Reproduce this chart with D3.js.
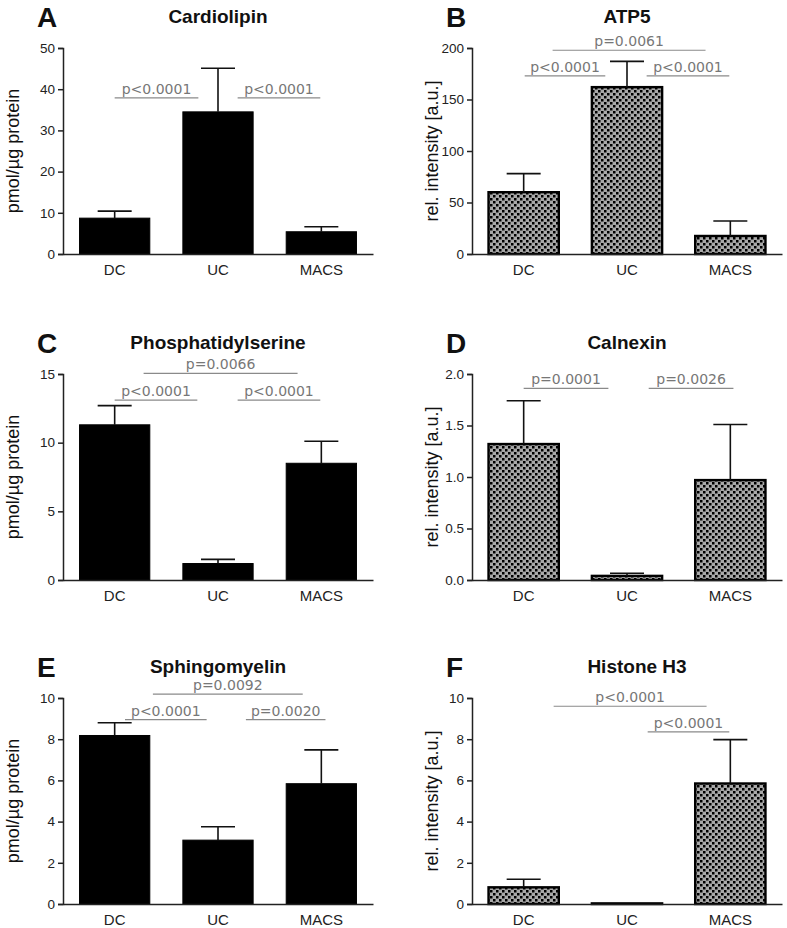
<!DOCTYPE html>
<html>
<head>
<meta charset="utf-8">
<script src="https://cdn.jsdelivr.net/npm/d3@7"></script>
<style>
  html, body { margin: 0; padding: 0; background: #fff; }
  svg { display: block; }
</style>
</head>
<body>
<svg id="chart" width="787" height="928"></svg>
<script>
// ---------- data ----------
const categories = ["DC", "UC", "MACS"];

const cardiolipinMean = [8.7, 34.5, 5.4];
const cardiolipinSD   = [1.7, 10.6, 1.2];
const cardiolipinTicks = [0, 10, 20, 30, 40, 50];

const atp5Mean = [60, 162, 17.5];
const atp5SD   = [18, 25, 14.5];
const atp5Ticks = [0, 50, 100, 150, 200];

const psMean = [11.3, 1.2, 8.5];
const psSD   = [1.4, 0.3, 1.6];
const psTicks = [0, 5, 10, 15];

const calnexinMean = [1.32, 0.04, 0.97];
const calnexinSD   = [0.42, 0.025, 0.54];
const calnexinTicks = [0, 0.5, 1.0, 1.5, 2.0];

const smMean = [8.18, 3.1, 5.84];
const smSD   = [0.62, 0.65, 1.64];
const smTicks = [0, 2, 4, 6, 8, 10];

const h3Mean = [0.81, 0.03, 5.85];
const h3SD   = [0.39, 0.0, 2.13];
const h3Ticks = [0, 2, 4, 6, 8, 10];

// significance brackets: from/to in category units (0 = DC, 1 = UC, 2 = MACS), y in data units
const cardiolipinSig = [
  { label: "p<0.0001", from: 0.0, to: 0.81, y: 37.9 },
  { label: "p<0.0001", from: 1.19, to: 1.99, y: 37.9 }
];
const atp5Sig = [
  { label: "p=0.0061", from: 0.28, to: 1.76, y: 197.8 },
  { label: "p<0.0001", from: 0.01, to: 0.79, y: 172.9 },
  { label: "p<0.0001", from: 1.19, to: 1.99, y: 172.9 }
];
const psSig = [
  { label: "p=0.0066", from: 0.28, to: 1.77, y: 15.05 },
  { label: "p<0.0001", from: 0.0, to: 0.8, y: 13.1 },
  { label: "p<0.0001", from: 1.19, to: 1.99, y: 13.1 }
];
const calnexinSig = [
  { label: "p=0.0001", from: 0.0, to: 0.82, y: 1.86 },
  { label: "p=0.0026", from: 1.21, to: 2.03, y: 1.86 }
];
const smSig = [
  { label: "p=0.0092", from: 0.37, to: 1.82, y: 10.19 },
  { label: "p<0.0001", from: 0.1, to: 0.89, y: 8.95 },
  { label: "p=0.0020", from: 1.27, to: 2.04, y: 8.95 }
];
const h3Sig = [
  { label: "p<0.0001", from: 0.29, to: 1.77, y: 9.6 },
  { label: "p<0.0001", from: 1.2, to: 1.99, y: 8.36 }
];

const lipidUnit = "pmol/µg protein";
const proteinUnit = "rel. intensity [a.u.]";

const panels = [
  { letter: "A", title: "Cardiolipin", mean: cardiolipinMean, sd: cardiolipinSD, ticks: cardiolipinTicks, fmt: "d", unit: lipidUnit, pattern: false, sig: cardiolipinSig, col: 0, row: 0, titleDx: 0 },
  { letter: "B", title: "ATP5", mean: atp5Mean, sd: atp5SD, ticks: atp5Ticks, fmt: "d", unit: proteinUnit, pattern: true, sig: atp5Sig, col: 1, row: 0, titleDx: 0 },
  { letter: "C", title: "Phosphatidylserine", mean: psMean, sd: psSD, ticks: psTicks, fmt: "d", unit: lipidUnit, pattern: false, sig: psSig, col: 0, row: 1, titleDx: 0 },
  { letter: "D", title: "Calnexin", mean: calnexinMean, sd: calnexinSD, ticks: calnexinTicks, fmt: ".1f", unit: proteinUnit, pattern: true, sig: calnexinSig, col: 1, row: 1, titleDx: 0 },
  { letter: "E", title: "Sphingomyelin", mean: smMean, sd: smSD, ticks: smTicks, fmt: "d", unit: lipidUnit, pattern: false, sig: smSig, col: 0, row: 2, titleDx: 0 },
  { letter: "F", title: "Histone H3", mean: h3Mean, sd: h3SD, ticks: h3Ticks, fmt: "d", unit: proteinUnit, pattern: true, sig: h3Sig, col: 1, row: 2, titleDx: 10 }
];

// ---------- layout ----------
const colX = [63, 472];          // y-axis x position
const colLabelX = [13, 432];     // y-axis title centre
const rowBottom = [254, 580, 904];
const plotW = 310, plotH = 206;

const svg = d3.select("#chart");
const defs = svg.append("defs");
const pat = defs.append("pattern")
  .attr("id", "checker")
  .attr("patternUnits", "userSpaceOnUse")
  .attr("width", 6).attr("height", 6);
pat.append("rect").attr("width", 6).attr("height", 6).attr("fill", "#a8a8a8");
pat.append("rect").attr("x", 0).attr("y", 0).attr("width", 2.5).attr("height", 2.5).attr("fill", "#000");
pat.append("rect").attr("x", 3).attr("y", 3).attr("width", 2.5).attr("height", 2.5).attr("fill", "#000");

const sansFont = "'Liberation Sans', Arial, sans-serif";

panels.forEach(p => {
  const x0 = colX[p.col];
  const yb = rowBottom[p.row];
  const g = svg.append("g").attr("transform", `translate(${x0},${yb - plotH})`);

  const x = d3.scaleBand().domain(categories).range([0, plotW]).paddingInner(0.32).paddingOuter(0.16);
  const y = d3.scaleLinear().domain([0, p.ticks[p.ticks.length - 1]]).range([plotH, 0]);
  const step = x.step();
  const cx = u => x(categories[0]) + x.bandwidth() / 2 + u * step;

  // bars
  g.selectAll("rect.bar").data(categories).join("rect")
    .attr("class", "bar")
    .attr("x", d => x(d))
    .attr("width", x.bandwidth())
    .attr("y", (d, i) => y(p.mean[i]))
    .attr("height", (d, i) => Math.max(0.5, plotH - y(p.mean[i])))
    .attr("fill", p.pattern ? "url(#checker)" : "#000")
    .attr("stroke", "#000")
    .attr("stroke-width", p.pattern ? 2.4 : 1);

  // error bars (upper)
  const cap = 34;
  categories.forEach((c, i) => {
    if (p.sd[i] <= 0) return;
    const xc = x(c) + x.bandwidth() / 2;
    const yt = y(p.mean[i]);
    const ye = y(p.mean[i] + p.sd[i]);
    g.append("line").attr("x1", xc).attr("x2", xc).attr("y1", yt).attr("y2", ye)
      .attr("stroke", "#111").attr("stroke-width", 1.6);
    g.append("line").attr("x1", xc - cap / 2).attr("x2", xc + cap / 2).attr("y1", ye).attr("y2", ye)
      .attr("stroke", "#111").attr("stroke-width", 1.6);
  });

  // y axis
  const yAxis = d3.axisLeft(y).tickValues(p.ticks).tickSize(5).tickPadding(3).tickFormat(d3.format(p.fmt));
  const ya = g.append("g").call(yAxis);
  ya.select(".domain").attr("stroke", "#222").attr("stroke-width", 1.5);
  ya.selectAll(".tick line").attr("stroke", "#222").attr("stroke-width", 1.5);
  ya.selectAll(".tick text").attr("font-family", sansFont).attr("font-size", 13.5).attr("fill", "#222");

  // x axis
  const xAxis = d3.axisBottom(x).tickSize(0).tickPadding(10);
  const xa = g.append("g").attr("transform", `translate(0,${plotH})`).call(xAxis);
  xa.select(".domain").attr("stroke", "#222").attr("stroke-width", 1.5);
  xa.selectAll(".tick text").attr("font-family", sansFont).attr("font-size", 15).attr("fill", "#222");

  // significance brackets
  p.sig.forEach(s => {
    const x1 = cx(s.from), x2 = cx(s.to), yy = y(s.y);
    g.append("line").attr("x1", x1).attr("x2", x2).attr("y1", yy).attr("y2", yy)
      .attr("stroke", "#8a8a8a").attr("stroke-width", 1.2);
    g.append("text").attr("x", (x1 + x2) / 2).attr("y", yy - 4)
      .attr("text-anchor", "middle")
      .attr("font-family", "'DejaVu Sans', sans-serif").attr("font-size", 14)
      .attr("fill", "#777").text(s.label);
  });

  // titles
  svg.append("text").attr("x", x0 + plotW / 2 + p.titleDx).attr("y", yb - 231)
    .attr("text-anchor", "middle").attr("font-family", sansFont).attr("font-weight", "bold")
    .attr("font-size", 19).attr("fill", "#111").text(p.title);
  svg.append("text").attr("x", p.col === 0 ? 37 : 446).attr("y", yb - 227)
    .attr("font-family", sansFont).attr("font-weight", "bold")
    .attr("font-size", 28).attr("fill", "#111").text(p.letter);

  // y axis title
  svg.append("text")
    .attr("transform", `translate(${colLabelX[p.col]},${yb - plotH / 2}) rotate(-90)`)
    .attr("text-anchor", "middle").attr("dominant-baseline", "central")
    .attr("font-family", sansFont).attr("font-size", 18).attr("fill", "#111").text(p.unit);
});
</script>
</body>
</html>
